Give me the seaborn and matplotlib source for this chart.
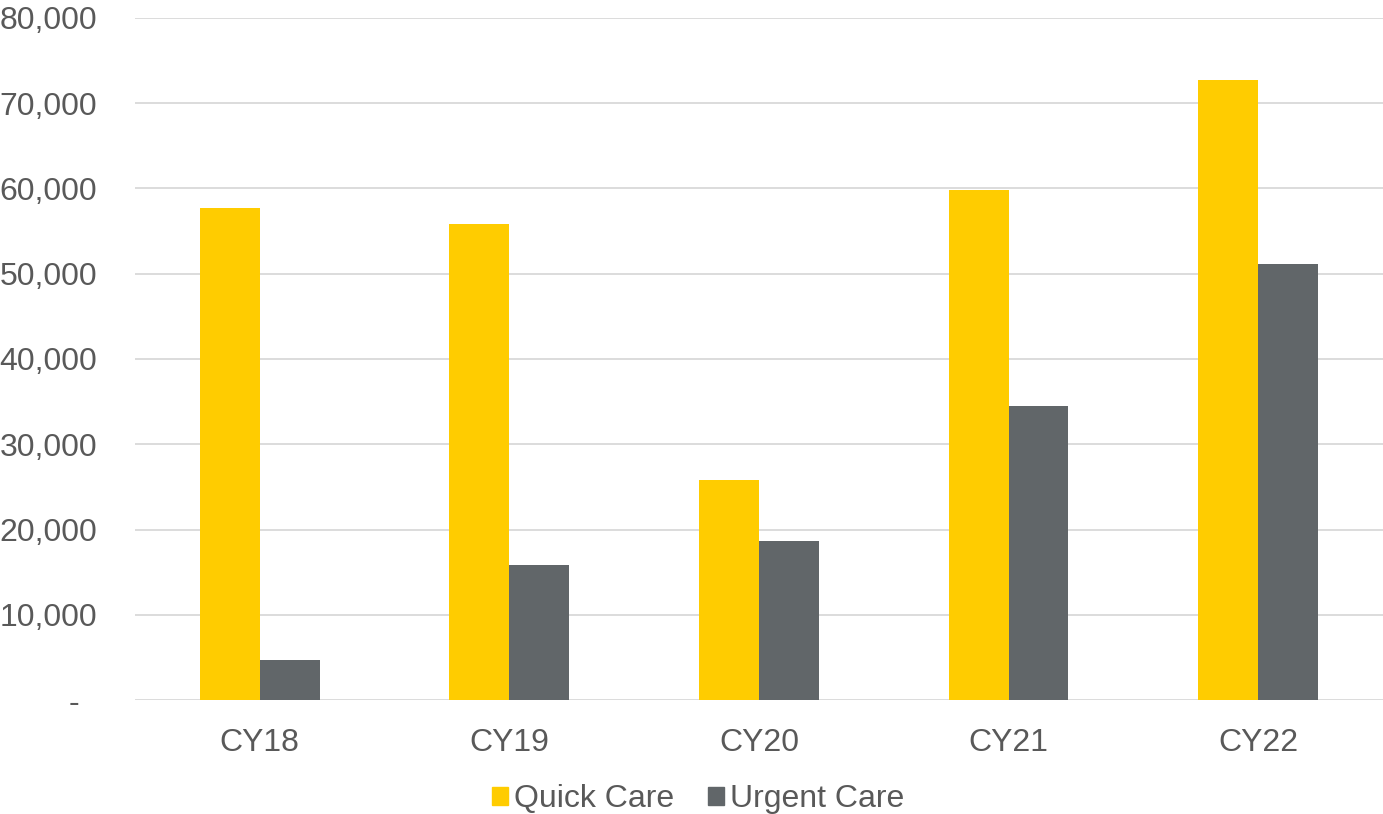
import pandas as pd
import matplotlib.pyplot as plt
import seaborn as sns
from matplotlib.ticker import FuncFormatter

years = ["CY18", "CY19", "CY20", "CY21", "CY22"]
quick_care = [57700, 55800, 25800, 59800, 72700]
urgent_care = [4700, 15800, 18700, 34500, 51100]

df = pd.DataFrame({
    "Year": years * 2,
    "Visits": quick_care + urgent_care,
    "Service": ["Quick Care"] * len(years) + ["Urgent Care"] * len(years),
})

sns.set_style("white")
plt.rcParams["font.family"] = ["Liberation Sans", "DejaVu Sans"]
text_color = "#595959"

fig = plt.figure(figsize=(13.83, 8.14), dpi=100)
ax = fig.add_axes([0.0976, 0.140, 0.9024, 0.838])

sns.barplot(data=df, x="Year", y="Visits", hue="Service",
            palette=["#FFCC00", "#616669"], width=0.48, gap=0,
            saturation=1, linewidth=0, ax=ax, legend=False, zorder=3)

ax.set_ylim(0, 80000)
ax.set_yticks(range(0, 80001, 10000))
ax.yaxis.set_major_formatter(FuncFormatter(lambda v, p: "-  " if v == 0 else f"{int(v):,}"))
ax.grid(axis="y", color="#d9d9d9", linewidth=1.3, zorder=0)
for s in ax.spines.values():
    s.set_visible(False)
ax.set_xlabel("")
ax.set_ylabel("")
ax.tick_params(axis="y", length=0, pad=27, labelsize=23, labelcolor=text_color)
ax.tick_params(axis="x", length=0, pad=20, labelsize=23, labelcolor=text_color)

handles = [plt.Rectangle((0, 0), 1, 1, color="#FFCC00"),
           plt.Rectangle((0, 0), 1, 1, color="#616669")]
fig.legend(handles, ["Quick Care", "Urgent Care"], loc="center", ncol=2,
           bbox_to_anchor=(0.505, 0.018), frameon=False, fontsize=23,
           labelcolor=text_color, handlelength=0.5, handleheight=0.5,
           handletextpad=0.2, columnspacing=1.05)

fig.savefig("out.png", dpi=100)
